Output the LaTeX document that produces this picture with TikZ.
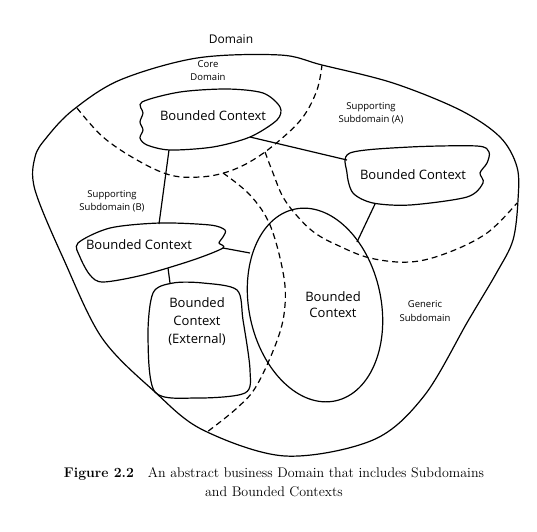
\documentclass[tikz,border=0pt]{standalone}
\usepackage{fontspec}
\newfontfamily\hand{Open Sans}
\begin{document}
\begin{tikzpicture}[x=1pt,y=-1pt, line join=round,
  bound/.style={draw, line width=1.2pt},
  sub/.style={draw, line width=1.2pt, dash pattern=on 6pt off 4pt},
  link/.style={draw, line width=1.2pt},
  bclabel/.style={font=\hand\fontsize{13}{16}\selectfont, align=center, inner sep=0pt},
  sublabel/.style={font=\hand\fontsize{9.5}{13}\selectfont, align=center, inner sep=0pt}]
\useasboundingbox (0,0) rectangle (537,531);

% outer domain
\draw[bound] plot[smooth cycle, tension=0.55] coordinates {(280,55) (322,65) (393,83) (460,110) (500,137) (517,167) (518,200) (513,240) (497,272) (468,321) (424,396) (373,440) (285,456) (203,430) (155,392) (102,338) (64,260) (35,190) (35,157) (47,137) (73,110) (120,80) (197,58)};

% subdomain boundaries
\draw[sub] plot[smooth, tension=0.6] coordinates {(77,108) (103,137) (137,160) (170,175) (200,177) (227,172) (253,160) (280,140) (303,117) (317,90) (322,65)};
\draw[sub] plot[smooth, tension=0.6] coordinates {(223,173) (250,195) (270,225) (283,272) (285,305) (278,338) (257,385) (237,408) (207,432)};
\draw[sub] plot[smooth, tension=0.6] coordinates {(265,152) (273,173) (283,197) (298,217) (315,233) (337,245) (370,258) (410,262) (447,253) (487,233) (517,203)};

% bounded contexts
\draw[bound, fill=white] plot[smooth cycle, tension=0.5] coordinates {(142,102) (180,92) (227,89) (263,93) (280,107) (277,120) (250,137) (213,147) (170,150) (147,145) (140,138) (143,130) (140,122) (143,113)};
\draw[bound, fill=white] plot[smooth cycle, tension=0.5] coordinates {(350,153) (410,147) (477,146) (489,152) (487,163) (480,173) (483,183) (467,197) (410,205) (373,203) (353,193) (347,173)};
\draw[bound, fill=white] plot[smooth cycle, tension=0.5] coordinates {(78,243) (110,228) (160,223) (210,225) (225,230) (223,237) (219,243) (223,248) (193,260) (143,275) (103,282) (90,275) (80,257)};
\draw[bound] plot[smooth cycle, tension=0.5] coordinates {(173,283) (203,283) (237,290) (243,320) (250,370) (245,393) (197,398) (155,392) (148,337) (153,293)};
\draw[bound, rotate around={12:(315,305)}] (315,305) ellipse [x radius=66, y radius=98];

% connector end points
\coordinate (c1a) at (169,150);
\coordinate (c1b) at (159,224);
\coordinate (c2a) at (250,137);
\coordinate (c2b) at (347,160);
\coordinate (c3a) at (375,204);
\coordinate (c3b) at (357,242);
\coordinate (c4a) at (223,248);
\coordinate (c4b) at (250,253);
\coordinate (c5a) at (168,268);
\coordinate (c5b) at (170,283);
\draw[link] (c1a) -- (c1b);
\draw[link] (c2a) -- (c2b);
\draw[link] (c3a) -- (c3b);
\draw[link] (c4a) -- (c4b);
\draw[link] (c5a) -- (c5b);

% texts
\node[bclabel] (bc1) at (213,116) {Bounded Context};
\node[bclabel] (bc2) at (413,175) {Bounded Context};
\node[bclabel] (bc3) at (139,245) {Bounded Context};
\node[bclabel, font=\hand\fontsize{13}{18}\selectfont] (bcx) at (197,322) {Bounded\\Context\\(External)};
\node[bclabel] (bce) at (333,305) {Bounded\\Context};

\node[font=\hand\fontsize{12}{14}\selectfont, inner sep=0pt] (dom) at (231,39) {Domain};
\node[sublabel] (core) at (208,71) {Core\\Domain};
\node[sublabel] (supa) at (371,113) {Supporting\\Subdomain (A)};
\node[sublabel] (supb) at (112,201) {Supporting\\Subdomain (B)};
\node[sublabel, font=\hand\fontsize{9.5}{14}\selectfont] (gen) at (425,311) {Generic\\Subdomain};

\node[font=\fontsize{14}{19}\selectfont, align=center, inner sep=0pt] (cap) at (274,482) {{\bfseries Figure 2.2}\quad An abstract business Domain that includes Subdomains\\and Bounded Contexts};
\end{tikzpicture}
\end{document}
